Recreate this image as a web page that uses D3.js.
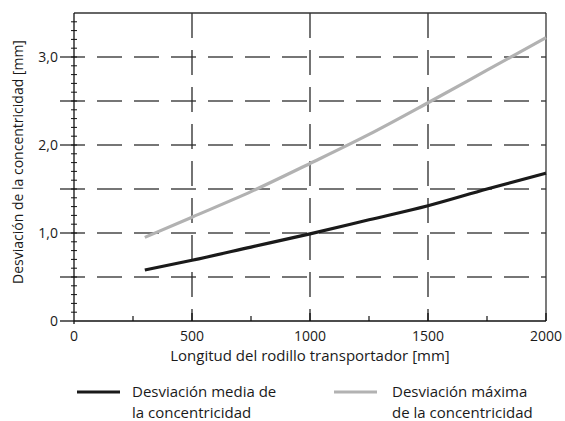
<!DOCTYPE html>
<html><head><meta charset="utf-8">
<script src="https://cdn.jsdelivr.net/npm/d3@7"></script>
<style>
html,body{margin:0;padding:0;background:#fff;}
text{font-family:"Open Sans","Lato",sans-serif;fill:#1a1a1a;}
</style></head>
<body><svg id="c" width="565" height="421"></svg>
<script>
const lengths = [300, 500, 750, 1000, 1250, 1500, 1750, 2000];
const meanDeviation = [0.58, 0.69, 0.84, 0.99, 1.15, 1.31, 1.50, 1.68];
const maxDeviation = [0.95, 1.18, 1.47, 1.79, 2.12, 2.48, 2.85, 3.22];
const xTickValues = [0, 500, 1000, 1500, 2000];
const xTickLabels = ["0", "500", "1000", "1500", "2000"];
const yTickValues = [0, 1, 2, 3];
const yTickLabels = ["0", "1,0", "2,0", "3,0"];
const yGridValues = [0.5, 1, 1.5, 2, 2.5, 3];
const xGridValues = [500, 1000, 1500];
const xMinorValues = [250, 750, 1250, 1750];
const seriesNames = [["Desviación media de", "la concentricidad"], ["Desviación máxima", "de la concentricidad"]];

const svg = d3.select("#c");
const L = 74, R = 546, T = 13, B = 321;
const x = d3.scaleLinear().domain([0, 2000]).range([L, R]);
const y = d3.scaleLinear().domain([0, 3.5]).range([B, T]);

// horizontal dashed grid
svg.append("g").selectAll("line").data(yGridValues).join("line")
  .attr("x1", L - 14).attr("x2", R).attr("y1", d => y(d)).attr("y2", d => y(d))
  .attr("stroke", "#4a4a4a").attr("stroke-width", 1.3).attr("stroke-dasharray", "25,12");
// vertical dashed grid
svg.append("g").selectAll("line").data(xGridValues).join("line")
  .attr("x1", d => x(d)).attr("x2", d => x(d)).attr("y1", T).attr("y2", B)
  .attr("stroke", "#2a2a2a").attr("stroke-width", 1.3).attr("stroke-dasharray", "25,12");

// frame top & right
svg.append("line").attr("x1", L).attr("x2", R).attr("y1", T).attr("y2", T).attr("stroke", "#333").attr("stroke-width", 1.3);
svg.append("line").attr("x1", R).attr("x2", R).attr("y1", T).attr("y2", B).attr("stroke", "#333").attr("stroke-width", 1.3);

// y axis
svg.append("line").attr("x1", L).attr("x2", L).attr("y1", T).attr("y2", B + 3).attr("stroke", "#111").attr("stroke-width", 1.3);
const yMinor = d3.range(1, 35).map(i => i / 10);
svg.append("g").selectAll("line").data(yMinor).join("line")
  .attr("x1", L - 3).attr("x2", L + 3).attr("y1", d => y(d)).attr("y2", d => y(d))
  .attr("stroke", "#111").attr("stroke-width", 1);
svg.append("line").attr("x1", L - 14).attr("x2", L).attr("y1", y(0)).attr("y2", y(0)).attr("stroke", "#111").attr("stroke-width", 1.3);
svg.append("g").selectAll("text").data(yTickValues).join("text")
  .attr("x", L - 16).attr("y", d => y(d) + 5).attr("text-anchor", "end")
  .attr("font-size", 14).text((d, i) => yTickLabels[i]);

// x axis
svg.append("line").attr("x1", L).attr("x2", R).attr("y1", B).attr("y2", B).attr("stroke", "#111").attr("stroke-width", 1.3);
svg.append("g").selectAll("line").data(xGridValues.concat([2000])).join("line")
  .attr("x1", d => x(d)).attr("x2", d => x(d)).attr("y1", B - 8).attr("y2", B)
  .attr("stroke", "#111").attr("stroke-width", 1.3);
svg.append("g").selectAll("line").data(xMinorValues).join("line")
  .attr("x1", d => x(d)).attr("x2", d => x(d)).attr("y1", B - 5).attr("y2", B)
  .attr("stroke", "#111").attr("stroke-width", 1.2);
svg.append("g").selectAll("text").data(xTickValues).join("text")
  .attr("x", d => x(d)).attr("y", B + 20).attr("text-anchor", "middle")
  .attr("font-size", 14).text((d, i) => xTickLabels[i]);

// axis titles
svg.append("text").attr("x", 310).attr("y", 361).attr("text-anchor", "middle")
  .attr("font-size", 15).text("Longitud del rodillo transportador [mm]");
svg.append("text").attr("transform", "translate(23,162) rotate(-90)").attr("text-anchor", "middle")
  .attr("font-size", 14).text("Desviación de la concentricidad [mm]");

// curves
const line = d3.line().x(d => x(d[0])).y(d => y(d[1])).curve(d3.curveMonotoneX);
svg.append("path").datum(lengths.map((l, i) => [l, maxDeviation[i]]))
  .attr("d", line).attr("fill", "none").attr("stroke", "#b2b2b2").attr("stroke-width", 3.2);
svg.append("path").datum(lengths.map((l, i) => [l, meanDeviation[i]]))
  .attr("d", line).attr("fill", "none").attr("stroke", "#1a1a1a").attr("stroke-width", 3.2);

// legend
const leg = [{x1: 77, x2: 120, tx: 132, color: "#1a1a1a"}, {x1: 334, x2: 377, tx: 392, color: "#b2b2b2"}];
leg.forEach((g, i) => {
  svg.append("line").attr("x1", g.x1).attr("x2", g.x2).attr("y1", 392).attr("y2", 392)
    .attr("stroke", g.color).attr("stroke-width", 3.2);
  const t = svg.append("text").attr("x", g.tx).attr("y", 397).attr("font-size", 15);
  seriesNames[i].forEach((s, j) => t.append("tspan").attr("x", g.tx).attr("dy", j ? 21 : 0).text(s));
});
</script></body></html>
